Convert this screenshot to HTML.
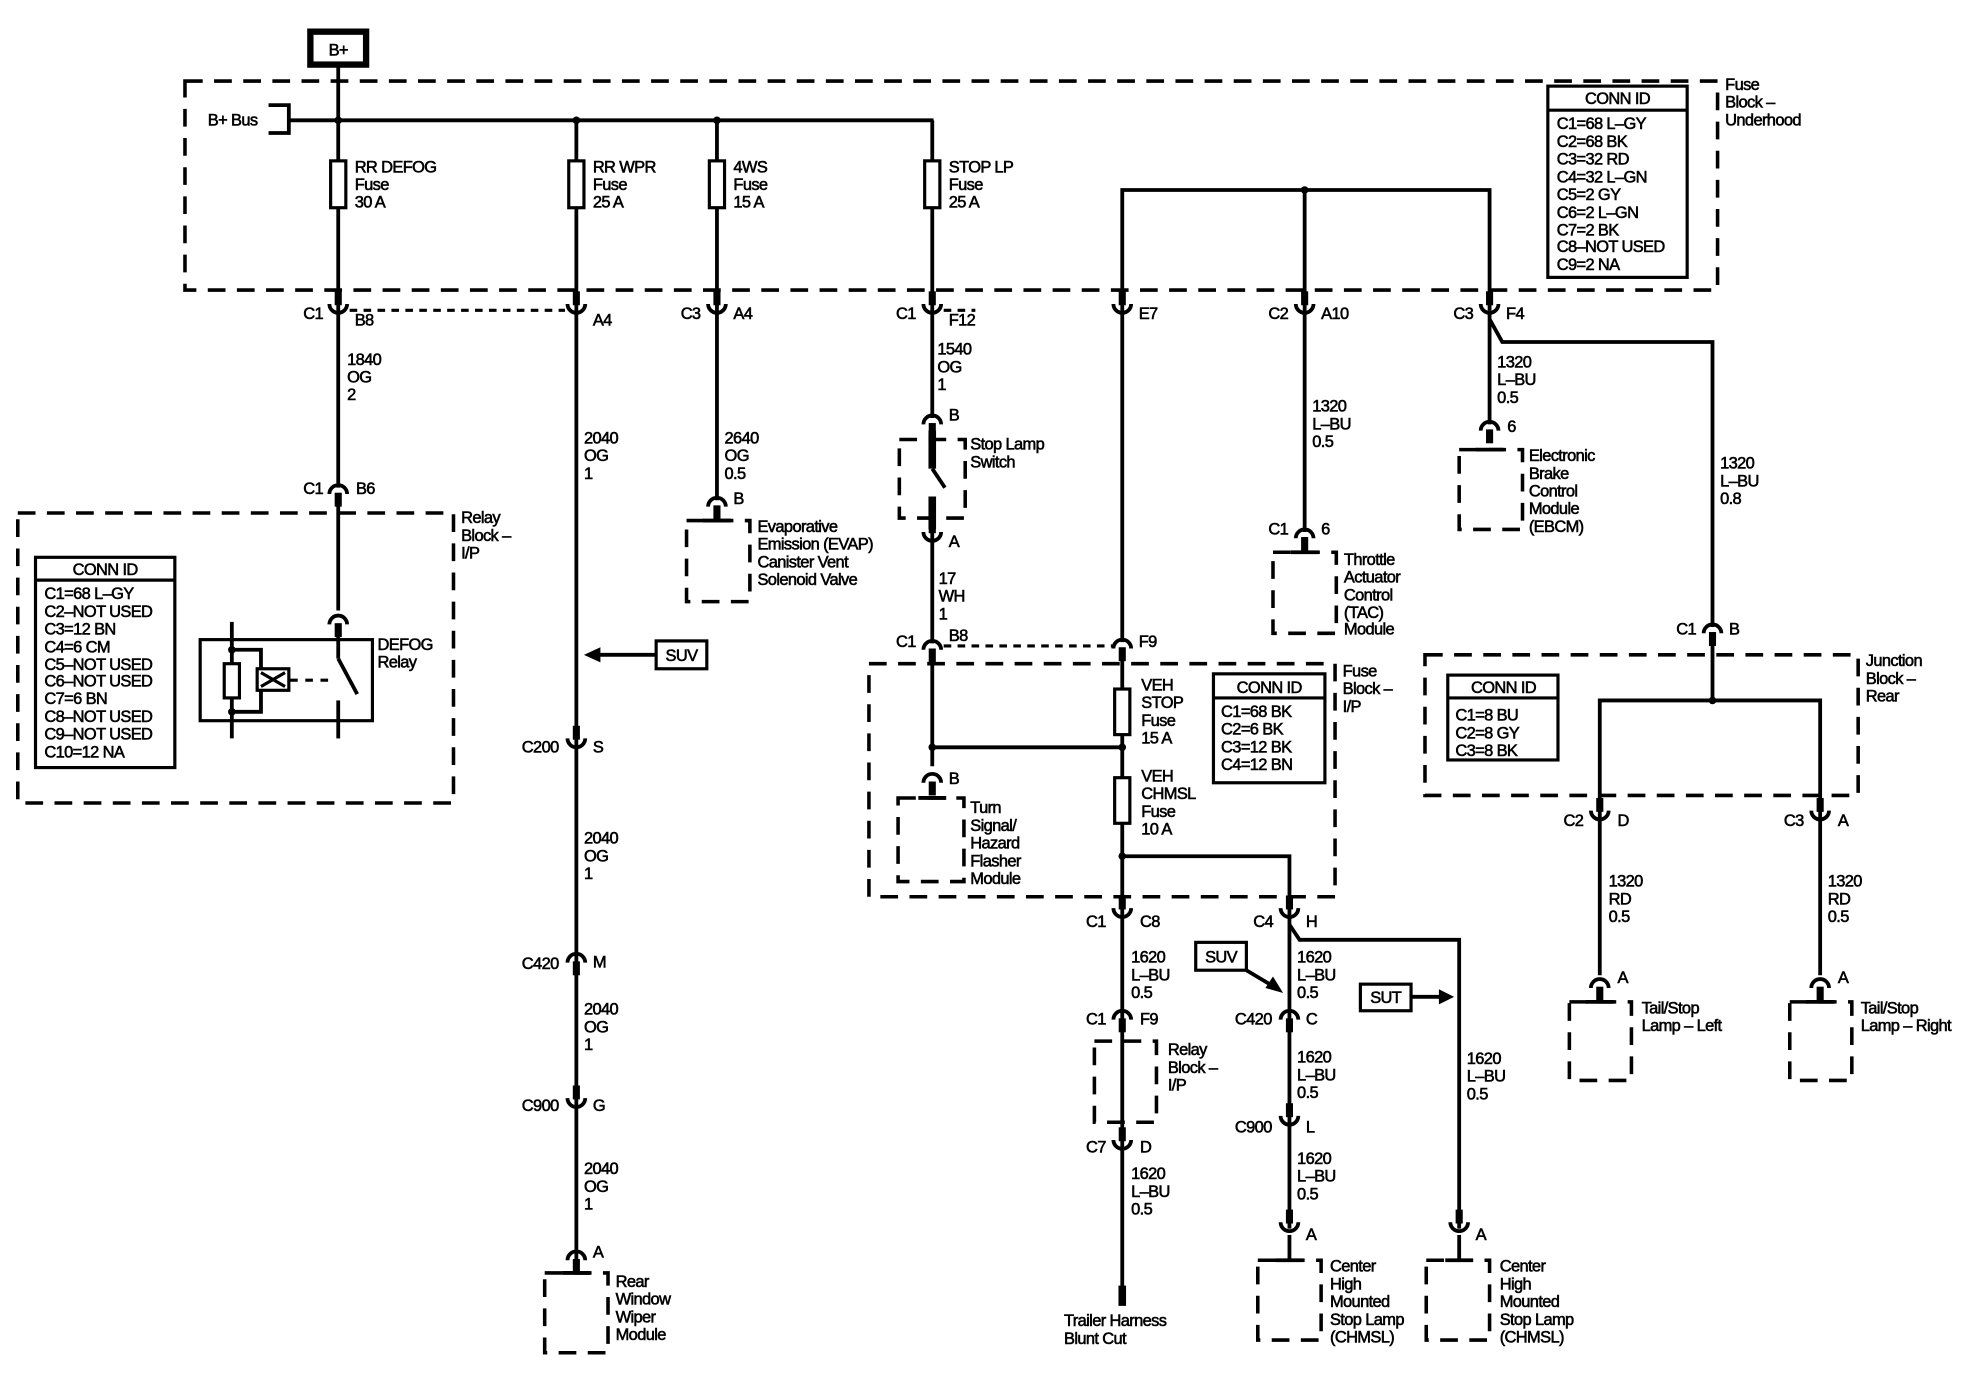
<!DOCTYPE html>
<html><head><meta charset="utf-8"><style>
html,body{margin:0;padding:0;background:#fff}
svg{display:block}
text{font-family:"Liberation Sans",Arial,sans-serif;font-size:13px;fill:#000;stroke:#000;stroke-width:0.45;letter-spacing:-0.5px}
.w{stroke:#000;stroke-width:3;fill:none}
.d{stroke:#000;stroke-width:2.8;fill:none;stroke-dasharray:14 9}
.dot{stroke:#000;stroke-width:2.5;fill:none;stroke-dasharray:6 5}
.b{stroke:#000;stroke-width:2.5;fill:#fff}
</style></head><body>
<svg width="1976" height="1392" viewBox="0 0 1560 1099" xmlns="http://www.w3.org/2000/svg">
<defs>
<g id="cu"><rect x="-2.8" y="-15" width="5.6" height="11" fill="#000"/><path d="M-7,-5 A7,7 0 0 0 7,-5" stroke="#000" stroke-width="3" fill="none"/></g>
<g id="ca"><rect x="-2.8" y="4" width="5.6" height="11" fill="#000"/><path d="M-7,5 A7,7 0 0 1 7,5" stroke="#000" stroke-width="3" fill="none"/></g>
</defs>

<rect x="245" y="25" width="44" height="26" fill="#fff" stroke="#000" stroke-width="5"/>
<text x="267" y="44" text-anchor="middle">B+</text>

<rect x="146" y="64" width="1210" height="165" class="d"/>
<text x="1362" y="71">Fuse</text><text x="1362" y="85">Block –</text><text x="1362" y="99">Underhood</text>
<rect x="1222" y="68" width="110" height="151" class="b"/>
<line x1="1222" y1="87" x2="1332" y2="87" stroke="#000" stroke-width="2.5"/>
<text x="1277" y="82" text-anchor="middle">CONN ID</text>
<text x="1229" y="102">C1=68 L–GY</text><text x="1229" y="116">C2=68 BK</text><text x="1229" y="130">C3=32 RD</text><text x="1229" y="144">C4=32 L–GN</text><text x="1229" y="158">C5=2 GY</text><text x="1229" y="172">C6=2 L–GN</text><text x="1229" y="186">C7=2 BK</text><text x="1229" y="199">C8–NOT USED</text><text x="1229" y="213">C9=2 NA</text>

<text x="164" y="99">B+ Bus</text>
<path d="M212,83 H228 V105 H212" class="w"/>
<line x1="228" y1="95" x2="737" y2="95" class="w"/>
<line x1="267" y1="52" x2="267" y2="385" class="w"/>
<line x1="455" y1="95" x2="455" y2="1000" class="w"/>
<line x1="566" y1="95" x2="566" y2="395" class="w"/>
<line x1="736" y1="95" x2="736" y2="330" class="w"/>
<circle cx="267" cy="95" r="3"/><circle cx="455" cy="95" r="3"/><circle cx="566" cy="95" r="3"/>
<rect x="261" y="127" width="12" height="37" class="b"/>
<rect x="449" y="127" width="12" height="37" class="b"/>
<rect x="560" y="127" width="12" height="37" class="b"/>
<rect x="730" y="127" width="12" height="37" class="b"/>
<text x="280" y="136">RR DEFOG</text><text x="280" y="150">Fuse</text><text x="280" y="164">30 A</text>
<text x="468" y="136">RR WPR</text><text x="468" y="150">Fuse</text><text x="468" y="164">25 A</text>
<text x="579" y="136">4WS</text><text x="579" y="150">Fuse</text><text x="579" y="164">15 A</text>
<text x="749" y="136">STOP LP</text><text x="749" y="150">Fuse</text><text x="749" y="164">25 A</text>

<path d="M886,507 V150 H1176 V245" class="w"/>
<line x1="1030" y1="150" x2="1030" y2="420" class="w"/>
<circle cx="1030" cy="150" r="3"/>

<use href="#cu" x="267" y="245"/><text x="255" y="252" text-anchor="end">C1</text><text x="280" y="257">B8</text>
<use href="#cu" x="455" y="245"/><text x="468" y="257">A4</text>
<use href="#cu" x="566" y="245"/><text x="553" y="252" text-anchor="end">C3</text><text x="579" y="252">A4</text>
<use href="#cu" x="736" y="245"/><text x="723" y="252" text-anchor="end">C1</text><text x="749" y="257">F12</text>
<use href="#cu" x="886" y="245"/><text x="899" y="252">E7</text>
<use href="#cu" x="1030" y="245"/><text x="1017" y="252" text-anchor="end">C2</text><text x="1043" y="252">A10</text>
<use href="#cu" x="1176" y="245"/><text x="1163" y="252" text-anchor="end">C3</text><text x="1189" y="252">F4</text>
<line x1="276" y1="245" x2="446" y2="245" class="dot"/>
<line x1="745" y1="245" x2="770" y2="245" class="dot"/>

<text x="274" y="288">1840</text><text x="274" y="302">OG</text><text x="274" y="316">2</text>
<use href="#ca" x="267" y="385"/><text x="255" y="390" text-anchor="end">C1</text><text x="281" y="390">B6</text>
<rect x="14" y="405" width="344" height="229" class="d"/>
<text x="364" y="413">Relay</text><text x="364" y="427">Block –</text><text x="364" y="441">I/P</text>
<rect x="28" y="440" width="110" height="166" class="b"/>
<line x1="28" y1="458" x2="138" y2="458" stroke="#000" stroke-width="2.5"/>
<text x="83" y="454" text-anchor="middle">CONN ID</text>
<text x="35" y="473">C1=68 L–GY</text><text x="35" y="487">C2–NOT USED</text><text x="35" y="501">C3=12 BN</text><text x="35" y="515">C4=6 CM</text><text x="35" y="529">C5–NOT USED</text><text x="35" y="542">C6–NOT USED</text><text x="35" y="556">C7=6 BN</text><text x="35" y="570">C8–NOT USED</text><text x="35" y="584">C9–NOT USED</text><text x="35" y="598">C10=12 NA</text>
<line x1="267" y1="395" x2="267" y2="482" class="w"/>
<use href="#ca" x="267" y="488"/>
<rect x="158" y="505" width="136" height="64" fill="none" stroke="#000" stroke-width="2.5"/>
<line x1="183" y1="491" x2="183" y2="583" class="w"/>
<line x1="267" y1="499" x2="267" y2="520" class="w"/>
<line x1="267" y1="520" x2="282" y2="548" class="w"/>
<line x1="267" y1="553" x2="267" y2="583" class="w"/>
<rect x="177" y="524" width="12" height="27" class="b"/>
<path d="M183,513 H206 V528 M183,562 H206 V545" class="w"/>
<rect x="203" y="528" width="25" height="17" class="b"/>
<path d="M206,531 L225,542 M225,531 L206,542" stroke="#000" stroke-width="2.5"/>
<line x1="229" y1="537" x2="264" y2="537" stroke="#000" stroke-width="2.5" stroke-dasharray="6 6"/>
<circle cx="183" cy="513" r="3"/><circle cx="183" cy="562" r="3"/>
<text x="298" y="513">DEFOG</text><text x="298" y="527">Relay</text>

<text x="461" y="350">2040</text><text x="461" y="364">OG</text><text x="461" y="378">1</text>
<rect x="518" y="506" width="40" height="22" fill="#fff" stroke="#000" stroke-width="2.5"/>
<text x="538" y="522" text-anchor="middle">SUV</text>
<line x1="472" y1="517" x2="518" y2="517" class="w"/><path d="M461,517 L474,511 L474,523 Z"/>
<use href="#cu" x="455" y="588"/><text x="441" y="594" text-anchor="end">C200</text><text x="468" y="594">S</text>
<text x="461" y="666">2040</text><text x="461" y="680">OG</text><text x="461" y="694">1</text>
<use href="#ca" x="455" y="755"/><text x="441" y="765" text-anchor="end">C420</text><text x="468" y="764">M</text>
<text x="461" y="801">2040</text><text x="461" y="815">OG</text><text x="461" y="829">1</text>
<use href="#cu" x="455" y="872"/><text x="441" y="877" text-anchor="end">C900</text><text x="468" y="877">G</text>
<text x="461" y="927">2040</text><text x="461" y="941">OG</text><text x="461" y="955">1</text>
<use href="#ca" x="455" y="990"/><text x="468" y="993">A</text>
<line x1="455" y1="1000" x2="455" y2="1005" class="w"/><line x1="444" y1="1005" x2="466" y2="1005" class="w"/>
<rect x="430" y="1005" width="50" height="63" class="d"/>
<text x="486" y="1016">Rear</text><text x="486" y="1030">Window</text><text x="486" y="1044">Wiper</text><text x="486" y="1058">Module</text>

<text x="572" y="350">2640</text><text x="572" y="364">OG</text><text x="572" y="378">0.5</text>
<use href="#ca" x="566" y="395"/><text x="579" y="398">B</text>
<line x1="555" y1="411" x2="577" y2="411" class="w"/>
<rect x="542" y="411" width="50" height="64" class="d"/>
<text x="598" y="420">Evaporative</text><text x="598" y="434">Emission (EVAP)</text><text x="598" y="448">Canister Vent</text><text x="598" y="462">Solenoid Valve</text>

<text x="740" y="280">1540</text><text x="740" y="294">OG</text><text x="740" y="308">1</text>
<use href="#ca" x="736" y="330"/><text x="749" y="332">B</text>
<rect x="710" y="347" width="52" height="62" class="d"/>
<rect x="733" y="340" width="6" height="30" fill="#000"/>
<line x1="736" y1="370" x2="746" y2="385" class="w"/>
<rect x="733" y="392" width="6" height="26" fill="#000"/>
<line x1="736" y1="418" x2="736" y2="508" class="w"/>
<text x="766" y="355">Stop Lamp</text><text x="766" y="369">Switch</text>
<use href="#cu" x="736" y="425"/><text x="749" y="432">A</text>
<text x="741" y="461">17</text><text x="741" y="475">WH</text><text x="741" y="489">1</text>
<use href="#ca" x="736" y="508"/><text x="723" y="511" text-anchor="end">C1</text><text x="749" y="506">B8</text>
<line x1="745" y1="510" x2="878" y2="510" class="dot"/>
<use href="#ca" x="886" y="507"/><text x="899" y="511">F9</text>

<rect x="686" y="524" width="368" height="184" class="d"/>
<text x="1060" y="534">Fuse</text><text x="1060" y="548">Block –</text><text x="1060" y="562">I/P</text>
<rect x="958" y="532" width="88" height="86" class="b"/>
<line x1="958" y1="551" x2="1046" y2="551" stroke="#000" stroke-width="2.5"/>
<text x="1002" y="547" text-anchor="middle">CONN ID</text>
<text x="964" y="566">C1=68 BK</text><text x="964" y="580">C2=6 BK</text><text x="964" y="594">C3=12 BK</text><text x="964" y="608">C4=12 BN</text>
<line x1="736" y1="518" x2="736" y2="605" class="w"/>
<line x1="736" y1="590" x2="886" y2="590" class="w"/>
<circle cx="736" cy="590" r="3"/><circle cx="886" cy="590" r="3"/>
<use href="#ca" x="736" y="613"/><text x="749" y="619">B</text>
<line x1="725" y1="630" x2="747" y2="630" class="w"/>
<rect x="709" y="630" width="52" height="66" class="d"/>
<text x="766" y="642">Turn</text><text x="766" y="656">Signal/</text><text x="766" y="670">Hazard</text><text x="766" y="684">Flasher</text><text x="766" y="698">Module</text>
<line x1="886" y1="517" x2="886" y2="1030" class="w"/>
<rect x="880" y="544" width="12" height="36" class="b"/>
<rect x="880" y="614" width="12" height="36" class="b"/>
<text x="901" y="545">VEH</text><text x="901" y="559">STOP</text><text x="901" y="573">Fuse</text><text x="901" y="587">15 A</text>
<text x="901" y="617">VEH</text><text x="901" y="631">CHMSL</text><text x="901" y="645">Fuse</text><text x="901" y="659">10 A</text>
<path d="M886,676 H1018 V970" class="w"/>
<circle cx="886" cy="676" r="3"/>

<use href="#cu" x="886" y="722"/><text x="873" y="732" text-anchor="end">C1</text><text x="900" y="732">C8</text>
<text x="893" y="760">1620</text><text x="893" y="774">L–BU</text><text x="893" y="788">0.5</text>
<use href="#ca" x="886" y="800"/><text x="873" y="809" text-anchor="end">C1</text><text x="900" y="809">F9</text>
<rect x="864" y="822" width="49" height="64" class="d"/>
<text x="922" y="833">Relay</text><text x="922" y="847">Block –</text><text x="922" y="861">I/P</text>
<use href="#cu" x="886" y="905"/><text x="873" y="910" text-anchor="end">C7</text><text x="900" y="910">D</text>
<text x="893" y="931">1620</text><text x="893" y="945">L–BU</text><text x="893" y="959">0.5</text>
<rect x="883" y="1015" width="6" height="16" fill="#000"/>
<text x="840" y="1047">Trailer Harness</text><text x="840" y="1061">Blunt Cut</text>

<use href="#cu" x="1018" y="722"/><text x="1005" y="732" text-anchor="end">C4</text><text x="1031" y="732">H</text>
<path d="M1018,730 L1026,742 H1152 V970" class="w"/>
<text x="1024" y="760">1620</text><text x="1024" y="774">L–BU</text><text x="1024" y="788">0.5</text>
<rect x="944" y="744" width="40" height="22" fill="#fff" stroke="#000" stroke-width="2.5"/>
<text x="964" y="760" text-anchor="middle">SUV</text>
<line x1="984" y1="766" x2="1004" y2="778" class="w"/><path d="M1013,784 L999,780 L1005,771 Z"/>
<use href="#ca" x="1018" y="800"/><text x="1004" y="809" text-anchor="end">C420</text><text x="1031" y="809">C</text>
<text x="1024" y="839">1620</text><text x="1024" y="853">L–BU</text><text x="1024" y="867">0.5</text>
<use href="#cu" x="1018" y="886"/><text x="1004" y="894" text-anchor="end">C900</text><text x="1031" y="894">L</text>
<text x="1024" y="919">1620</text><text x="1024" y="933">L–BU</text><text x="1024" y="947">0.5</text>
<use href="#cu" x="1018" y="970"/><text x="1031" y="979">A</text>
<line x1="1018" y1="975" x2="1018" y2="995" class="w"/><line x1="1007" y1="995" x2="1029" y2="995" class="w"/>
<rect x="993" y="995" width="50" height="63" class="d"/>
<text x="1050" y="1004">Center</text><text x="1050" y="1018">High</text><text x="1050" y="1032">Mounted</text><text x="1050" y="1046">Stop Lamp</text><text x="1050" y="1060">(CHMSL)</text>
<rect x="1074" y="777" width="40" height="21" fill="#fff" stroke="#000" stroke-width="2.5"/>
<text x="1094" y="792" text-anchor="middle">SUT</text>
<line x1="1114" y1="787" x2="1138" y2="787" class="w"/><path d="M1148,787 L1136,781 L1136,793 Z"/>
<text x="1158" y="840">1620</text><text x="1158" y="854">L–BU</text><text x="1158" y="868">0.5</text>
<use href="#cu" x="1152" y="970"/><text x="1165" y="979">A</text>
<line x1="1152" y1="975" x2="1152" y2="995" class="w"/><line x1="1141" y1="995" x2="1163" y2="995" class="w"/>
<rect x="1126" y="995" width="50" height="63" class="d"/>
<text x="1184" y="1004">Center</text><text x="1184" y="1018">High</text><text x="1184" y="1032">Mounted</text><text x="1184" y="1046">Stop Lamp</text><text x="1184" y="1060">(CHMSL)</text>

<text x="1036" y="325">1320</text><text x="1036" y="339">L–BU</text><text x="1036" y="353">0.5</text>
<use href="#ca" x="1030" y="420"/><text x="1017" y="422" text-anchor="end">C1</text><text x="1043" y="422">6</text>
<line x1="1019" y1="436" x2="1041" y2="436" class="w"/>
<rect x="1005" y="436" width="50" height="64" class="d"/>
<text x="1061" y="446">Throttle</text><text x="1061" y="460">Actuator</text><text x="1061" y="474">Control</text><text x="1061" y="488">(TAC)</text><text x="1061" y="501">Module</text>

<line x1="1176" y1="245" x2="1176" y2="335" class="w"/>
<path d="M1176,252 L1186,270 H1352 V495" class="w"/>
<text x="1182" y="290">1320</text><text x="1182" y="304">L–BU</text><text x="1182" y="318">0.5</text>
<use href="#ca" x="1176" y="335"/><text x="1190" y="341">6</text>
<line x1="1165" y1="355" x2="1187" y2="355" class="w"/>
<rect x="1152" y="355" width="50" height="63" class="d"/>
<text x="1207" y="364">Electronic</text><text x="1207" y="378">Brake</text><text x="1207" y="392">Control</text><text x="1207" y="406">Module</text><text x="1207" y="420">(EBCM)</text>
<text x="1358" y="370">1320</text><text x="1358" y="384">L–BU</text><text x="1358" y="398">0.8</text>
<use href="#ca" x="1352" y="495"/><text x="1339" y="501" text-anchor="end">C1</text><text x="1365" y="501">B</text>

<rect x="1125" y="517" width="342" height="111" class="d"/>
<text x="1473" y="526">Junction</text><text x="1473" y="540">Block –</text><text x="1473" y="554">Rear</text>
<rect x="1143" y="533" width="87" height="67" class="b"/>
<line x1="1143" y1="551" x2="1230" y2="551" stroke="#000" stroke-width="2.5"/>
<text x="1187" y="547" text-anchor="middle">CONN ID</text>
<text x="1149" y="569">C1=8 BU</text><text x="1149" y="583">C2=8 GY</text><text x="1149" y="597">C3=8 BK</text>
<line x1="1352" y1="505" x2="1352" y2="553" class="w"/>
<path d="M1263,645 V553 H1437 V645" class="w"/>
<circle cx="1352" cy="553" r="3"/>
<use href="#cu" x="1263" y="645"/><text x="1250" y="652" text-anchor="end">C2</text><text x="1277" y="652">D</text>
<use href="#cu" x="1437" y="645"/><text x="1424" y="652" text-anchor="end">C3</text><text x="1451" y="652">A</text>
<line x1="1263" y1="645" x2="1263" y2="770" class="w"/><line x1="1437" y1="645" x2="1437" y2="770" class="w"/>
<text x="1270" y="700">1320</text><text x="1270" y="714">RD</text><text x="1270" y="728">0.5</text>
<text x="1443" y="700">1320</text><text x="1443" y="714">RD</text><text x="1443" y="728">0.5</text>
<use href="#ca" x="1263" y="775"/><text x="1277" y="776">A</text>
<use href="#ca" x="1437" y="775"/><text x="1451" y="776">A</text>
<line x1="1252" y1="791" x2="1274" y2="791" class="w"/><line x1="1426" y1="791" x2="1448" y2="791" class="w"/>
<rect x="1239" y="791" width="49" height="62" class="d"/>
<rect x="1413" y="791" width="49" height="62" class="d"/>
<text x="1296" y="800">Tail/Stop</text><text x="1296" y="814">Lamp – Left</text>
<text x="1469" y="800">Tail/Stop</text><text x="1469" y="814">Lamp – Right</text>
</svg>
</body></html>
